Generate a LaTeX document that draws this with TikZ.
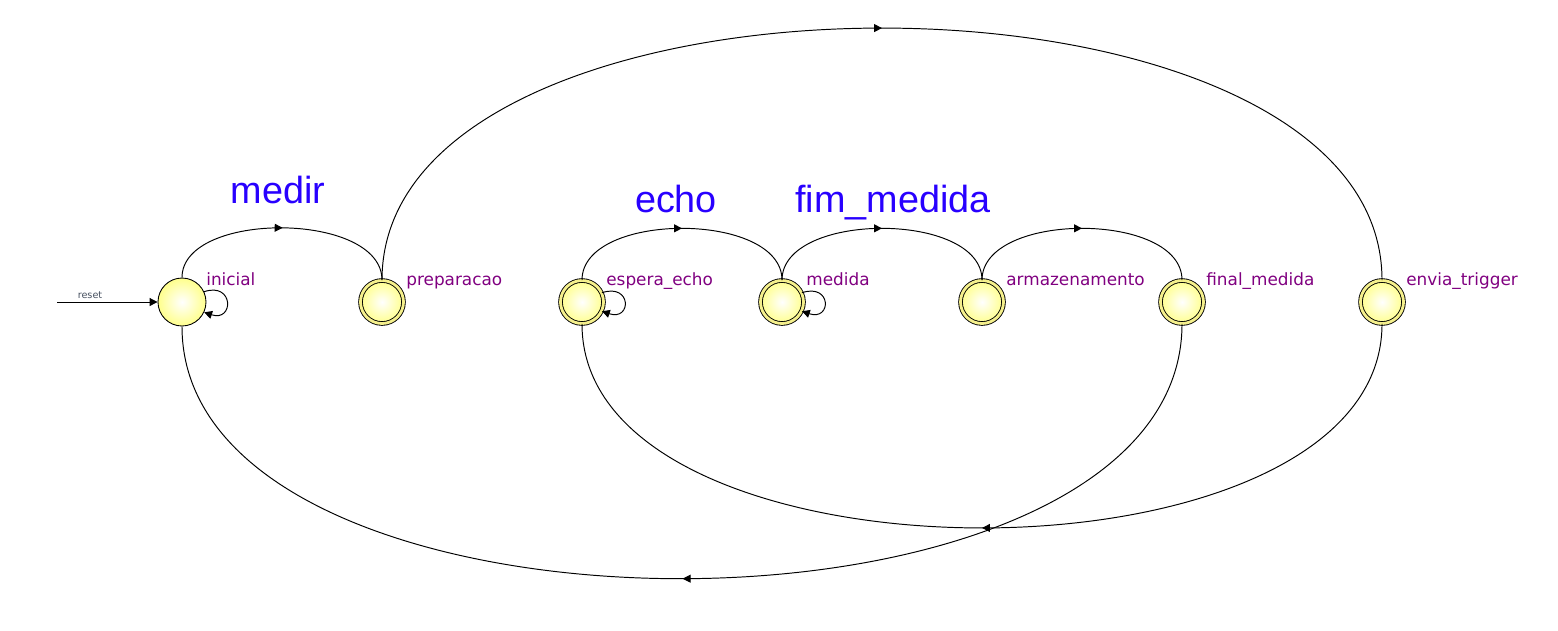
\documentclass[tikz,border=0pt]{standalone}
\usepackage{fontspec}
\setsansfont{DejaVu Sans}
\newfontfamily\trfont{Liberation Sans}
\usepackage{tikz}
\usetikzlibrary{arrows.meta,decorations.markings}
\definecolor{stfill}{RGB}{255,255,140}
\definecolor{ringfill}{RGB}{245,240,140}
\definecolor{stname}{RGB}{128,0,128}
\definecolor{trname}{RGB}{40,0,255}
\definecolor{resetgray}{RGB}{70,80,95}

\begin{document}
\begin{tikzpicture}[x=0.02cm, y=-0.02cm,
  state/.style={circle, draw=black, line width=0.5pt, minimum size=0.96cm,
    inner sep=0pt, inner color=white, outer color=stfill},
  finalstate/.style={state, minimum size=0.86cm, double=ringfill,
    double distance=1.6pt},
  trans/.style={draw=black, line width=0.55pt},
  midtip/.style={postaction={decorate, decoration={markings,
    mark=at position 0.5 with {\arrow{Triangle[length=4.5pt,width=4.5pt]}}}}},
  endtip/.style={-{Triangle[length=4.5pt,width=4.5pt]}},
  slabel/.style={font=\sffamily\fontsize{9.6}{11}\selectfont, text=stname,
    anchor=base west, inner sep=0pt},
  tlabel/.style={font=\trfont\fontsize{21.5}{24}\selectfont, text=trname,
    anchor=base, inner sep=0pt}
]
\useasboundingbox (0,0) rectangle (1558,630);
% states in one row: inicial is plain, the rest have a double ring
\node[state] (inicial) at (182,302) {};
\node[slabel] (inicial-l) at (206,285) {inicial};
\foreach \x/\n/\t in {382/preparacao/preparacao, 582/espera/espera\_echo,
    782/medida/medida, 982/armazenamento/armazenamento,
    1182/final/final\_medida, 1382/envia/envia\_trigger} {
  \node[finalstate] (\n) at (\x,302) {};
  \node[slabel] (\n-l) at (\x+24,285) {\t};
}
% reset entry
\coordinate (reset-in) at (57,302);
\draw[trans, endtip] (reset-in) -- (inicial.west);
\node[font=\sffamily\fontsize{5.5}{6}\selectfont, text=resetgray] (reset-l)
  at (90,295) {reset};
% top arcs between neighbours
\draw[trans, midtip] (inicial.north) .. controls +(0,-67) and +(0,-69) .. (preparacao.north);
\draw[trans, midtip] (espera.north) .. controls +(0,-69) and +(0,-69) .. (medida.north);
\draw[trans, midtip] (medida.north) .. controls +(0,-69) and +(0,-69) .. (armazenamento.north);
\draw[trans, midtip] (armazenamento.north) .. controls +(0,-69) and +(0,-69) .. (final.north);
% long arcs
\draw[trans, midtip] (preparacao.north) .. controls +(0,-336) and +(0,-336) .. (envia.north);
\draw[trans, midtip] (envia.south) .. controls +(0,272) and +(0,272) .. (espera.south);
\draw[trans, midtip] (final.south) .. controls +(0,339) and +(0,337) .. (inicial.south);
% self loops
\draw[trans, endtip] (inicial.25) .. controls +(30,-10) and +(30,10) .. (inicial.-25);
\draw[trans, endtip] (espera.25) .. controls +(30,-10) and +(30,10) .. (espera.-25);
\draw[trans, endtip] (medida.25) .. controls +(30,-10) and +(30,10) .. (medida.-25);
% transition names
\node[tlabel] (medir-l) at (278,203) {medir};
\node[tlabel] (echo-l) at (676,212) {echo};
\node[tlabel] (fim-l) at (893,212) {fim\_medida};
\end{tikzpicture}
\end{document}
